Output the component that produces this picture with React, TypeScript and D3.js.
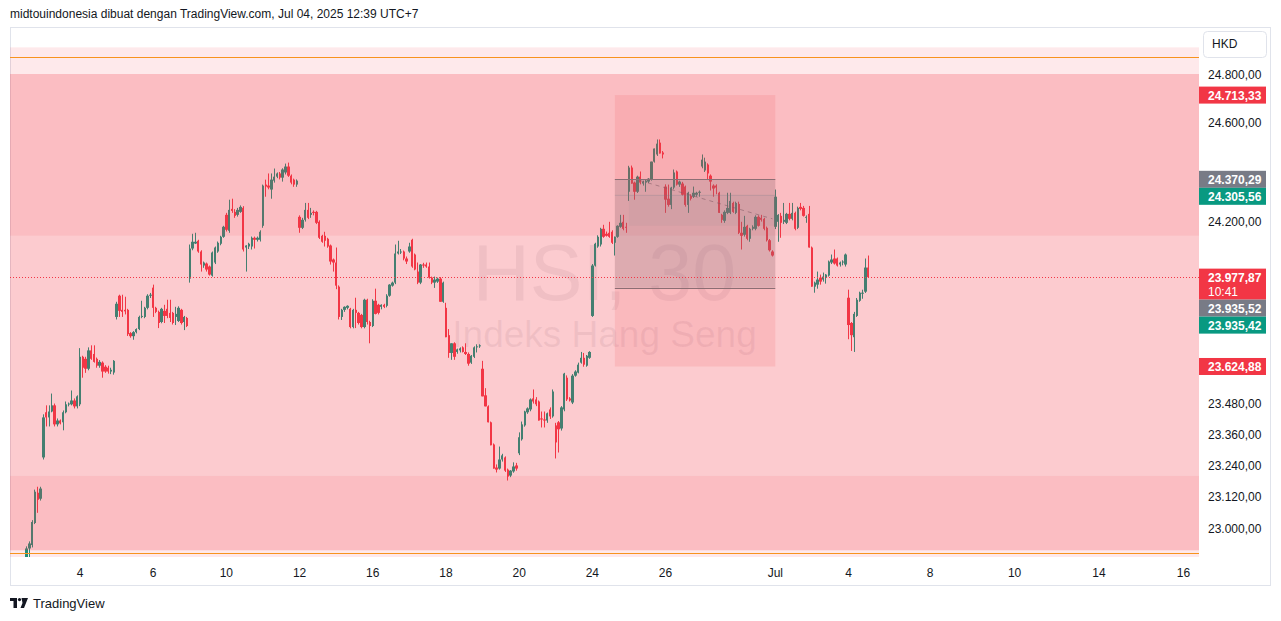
import React from "react";
import * as d3 from "d3";

// ---------- DATA ----------
const sessionDays = ["Jun 2","Jun 3","Jun 4","Jun 5","Jun 6","Jun 9","Jun 10","Jun 11","Jun 12","Jun 13","Jun 16","Jun 17","Jun 18","Jun 19","Jun 20","Jun 23","Jun 24","Jun 25","Jun 26","Jun 27","Jun 30","Jul 2","Jul 3","Jul 4"];
const BARS_PER_DAY = 13;

// [open, high, low, close] – HSI 30 min
const ohlc: number[][] = [
  // Jun 2
  [22860,22890,22800,22830],[22830,22850,22780,22800],[22800,22840,22770,22820],[22820,22860,22800,22840],[22840,22870,22810,22830],[22830,22860,22800,22850],[22850,22880,22830,22870],[22870,22930,22860,22922],[22922,22949,22887,22941],[22935,23030,22926,23023],[23019,23147,23015,23139],[23135,23158,23058,23108],[23112,23158,23105,23151],
  // Jun 3
  [23271,23438,23263,23426],[23446,23473,23391,23426],[23426,23473,23391,23449],[23449,23519,23446,23473],[23473,23480,23391,23399],[23399,23422,23391,23414],[23414,23418,23399,23403],[23407,23453,23376,23446],[23446,23488,23442,23477],[23477,23484,23469,23480],[23477,23531,23473,23492],[23492,23500,23461,23469],[23469,23512,23461,23508],
  // Jun 4
  [23477,23697,23470,23663],[23663,23667,23581,23620],[23655,23663,23600,23616],[23616,23700,23610,23688],[23688,23708,23651,23655],[23674,23708,23640,23643],[23655,23660,23620,23628],[23628,23650,23620,23643],[23640,23645,23581,23605],[23624,23630,23600,23605],[23620,23628,23597,23605],[23605,23620,23595,23612],[23601,23650,23593,23647],
  // Jun 5
  [23820,23880,23810,23872],[23904,23908,23820,23844],[23848,23908,23820,23840],[23848,23900,23830,23842],[23848,23852,23745,23752],[23756,23760,23738,23744],[23744,23764,23730,23760],[23760,23775,23755,23772],[23772,23825,23768,23820],[23820,23884,23815,23824],[23820,23860,23815,23856],[23856,23910,23850,23904],[23904,23915,23895,23908],
  // Jun 6
  [23936,23948,23820,23856],[23856,23860,23835,23840],[23840,23845,23776,23796],[23800,23856,23795,23852],[23844,23868,23796,23824],[23852,23888,23815,23824],[23836,23888,23800,23816],[23836,23840,23790,23796],[23820,23860,23788,23832],[23804,23862,23800,23856],[23848,23852,23790,23796],[23800,23824,23768,23820],[23816,23820,23780,23784],
  // Jun 9
  [23972,24108,23956,24092],[24092,24151,24085,24119],[24112,24155,24110,24119],[24123,24127,24075,24080],[24080,24085,24000,24028],[24024,24040,24015,24036],[24032,24036,24000,24008],[24020,24024,23984,23988],[23984,24080,23980,24076],[24036,24100,24030,24096],[24080,24120,24075,24115],[24111,24143,24105,24139],[24139,24183,24135,24179],
  // Jun 10
  [24227,24235,24160,24167],[24163,24288,24155,24247],[24251,24292,24235,24243],[24239,24250,24215,24223],[24227,24255,24220,24247],[24239,24265,24235,24259],[24255,24262,24080,24088],[24096,24105,24000,24104],[24100,24115,24090,24111],[24100,24140,24088,24135],[24135,24140,24092,24127],[24127,24140,24120,24135],[24127,24165,24120,24159],
  // Jun 11
  [24183,24349,24175,24345],[24349,24369,24300,24341],[24345,24394,24330,24337],[24329,24394,24292,24369],[24365,24414,24357,24381],[24381,24398,24375,24394],[24394,24400,24370,24377],[24377,24415,24361,24410],[24398,24434,24390,24422],[24422,24438,24380,24385],[24385,24390,24350,24357],[24369,24373,24340,24349],[24349,24370,24340,24365],
  // Jun 12
  [24219,24225,24155,24175],[24175,24215,24170,24207],[24207,24275,24200,24247],[24247,24275,24210,24215],[24227,24255,24215,24235],[24239,24245,24225,24235],[24239,24243,24190,24195],[24199,24205,24130,24135],[24143,24147,24115,24119],[24143,24159,24100,24123],[24131,24135,24095,24100],[24104,24108,24028,24040],[24048,24052,24000,24036],
  // Jun 13
  [24036,24096,23930,23944],[23940,23945,23810,23820],[23820,23852,23808,23848],[23848,23862,23840,23860],[23856,23866,23850,23864],[23852,23856,23775,23780],[23780,23852,23775,23848],[23848,23896,23776,23836],[23836,23840,23790,23796],[23828,23832,23775,23780],[23780,23892,23775,23888],[23888,23892,23790,23800],[23800,23805,23716,23784],
  // Jun 16
  [23784,23890,23780,23884],[23884,23932,23830,23832],[23868,23872,23830,23836],[23860,23870,23850,23868],[23868,23872,23855,23860],[23864,23910,23858,23904],[23904,23950,23900,23948],[23944,23960,23940,23956],[23956,24108,23950,24072],[24072,24123,24068,24080],[24076,24090,24070,24080],[24080,24084,24045,24052],[24052,24060,24030,24040],
  // Jun 17
  [24080,24115,24075,24100],[24127,24131,24015,24020],[24068,24072,24005,24008],[24000,24036,23950,23956],[23956,24030,23950,24028],[24028,24035,24015,24024],[24028,24036,24015,24020],[24020,24036,23972,23976],[23976,23980,23950,23956],[23956,23980,23935,23968],[23960,23976,23955,23972],[23972,23978,23880,23880],[23880,23960,23876,23956],
  // Jun 18
  [23856,23876,23740,23740],[23748,23772,23659,23678],[23678,23716,23651,23716],[23716,23720,23651,23663],[23682,23695,23675,23692],[23688,23700,23680,23696],[23700,23704,23680,23682],[23682,23716,23670,23674],[23674,23680,23628,23636],[23640,23670,23635,23667],[23663,23704,23658,23700],[23700,23712,23680,23704],[23704,23712,23698,23708],
  // Jun 19
  [23616,23647,23508,23508],[23512,23540,23469,23469],[23469,23473,23407,23407],[23407,23410,23318,23318],[23321,23325,23228,23228],[23232,23244,23213,23224],[23228,23313,23224,23263],[23263,23285,23255,23279],[23271,23275,23215,23220],[23224,23228,23182,23197],[23201,23222,23195,23220],[23217,23252,23212,23236],[23240,23250,23220,23228],
  // Jun 20
  [23287,23368,23280,23349],[23341,23410,23336,23399],[23395,23452,23390,23449],[23446,23465,23440,23461],[23457,23500,23450,23496],[23500,23535,23480,23488],[23496,23505,23470,23477],[23488,23492,23414,23414],[23422,23449,23387,23418],[23418,23449,23387,23414],[23414,23445,23405,23442],[23457,23465,23420,23430],[23430,23535,23425,23527],
  // Jun 23
  [23395,23405,23267,23329],[23407,23412,23290,23380],[23383,23470,23375,23465],[23457,23600,23450,23597],[23581,23590,23490,23496],[23500,23505,23488,23492],[23484,23595,23478,23589],[23589,23610,23585,23605],[23601,23640,23598,23632],[23640,23682,23636,23659],[23659,23678,23624,23632],[23628,23670,23624,23667],[23659,23685,23655,23682],
  // Jun 24
  [23824,24030,23820,24024],[24024,24115,24020,24111],[24100,24145,24095,24139],[24108,24175,24100,24171],[24171,24187,24135,24139],[24151,24160,24140,24143],[24155,24199,24135,24139],[24159,24165,24110,24115],[24115,24140,24064,24139],[24139,24185,24135,24183],[24179,24227,24175,24195],[24199,24227,24165,24171],[24179,24195,24155,24175],
  // Jun 25
  [24320,24425,24283,24418],[24418,24426,24353,24353],[24357,24361,24288,24320],[24320,24385,24315,24381],[24381,24402,24350,24357],[24353,24365,24345,24361],[24357,24370,24320,24365],[24361,24375,24355,24373],[24369,24442,24365,24442],[24442,24495,24438,24495],[24471,24532,24465,24515],[24519,24532,24475,24475],[24479,24485,24455,24471],
  // Jun 26
  [24341,24350,24235,24288],[24292,24349,24260,24267],[24267,24340,24250,24337],[24337,24410,24330,24398],[24402,24406,24345,24349],[24349,24365,24340,24361],[24353,24360,24305,24308],[24341,24345,24260,24267],[24267,24320,24235,24316],[24304,24310,24285,24292],[24300,24341,24295,24316],[24308,24320,24300,24316],[24316,24325,24300,24320],
  // Jun 27
  [24422,24471,24415,24450],[24406,24458,24400,24442],[24430,24435,24369,24394],[24385,24390,24325,24361],[24345,24350,24300,24333],[24345,24350,24310,24337],[24316,24320,24235,24235],[24227,24231,24195,24207],[24203,24245,24195,24239],[24235,24316,24230,24255],[24235,24316,24230,24283],[24275,24280,24235,24239],[24235,24280,24230,24275],
  // Jun 30
  [24271,24280,24150,24155],[24155,24199,24088,24143],[24147,24223,24140,24179],[24183,24187,24125,24131],[24131,24175,24119,24171],[24171,24185,24165,24179],[24171,24225,24165,24219],[24219,24225,24180,24183],[24215,24227,24200,24207],[24211,24215,24165,24171],[24175,24180,24120,24125],[24125,24130,24080,24085],[24080,24085,24060,24064],
  // Jul 2
  [24179,24329,24170,24300],[24199,24230,24119,24227],[24223,24235,24135,24195],[24199,24275,24190,24207],[24195,24235,24190,24231],[24231,24275,24205,24211],[24211,24275,24205,24235],[24235,24240,24165,24171],[24175,24260,24170,24255],[24259,24275,24245,24251],[24255,24263,24220,24223],[24215,24225,24195,24219],[24231,24263,24096,24096],
  // Jul 3
  [24096,24100,23940,23940],[23940,23960,23916,23956],[23948,24000,23932,23968],[23976,23988,23948,23960],[23968,23996,23960,23980],[23976,23990,23952,23988],[23984,24044,23980,24040],[24036,24068,24030,24048],[24052,24088,24028,24032],[24052,24056,24020,24024],[24028,24040,24020,24036],[24036,24045,24025,24040],[24028,24072,24020,24068],
  // Jul 4
  [23896,23928,23732,23788],[23796,23800,23686,23748],[23740,23840,23682,23832],[23824,23895,23820,23888],[23884,23920,23880,23916],[23912,23928,23892,23916],[23920,24052,23915,24016],[24016,24064,23975,23977.87],
];

const priceTicks = [24800, 24600, 24400, 24200, 24000, 23800, 23600, 23480, 23360, 23240, 23120, 23000];
const timeTicks = [
  { label: "4", bar: 26 }, { label: "6", bar: 52 }, { label: "10", bar: 78 }, { label: "12", bar: 104 },
  { label: "16", bar: 130 }, { label: "18", bar: 156 }, { label: "20", bar: 182 }, { label: "24", bar: 208 },
  { label: "26", bar: 234 }, { label: "Jul", bar: 273 }, { label: "4", bar: 299 },
  { label: "8", bar: 328 }, { label: "10", bar: 358 }, { label: "14", bar: 388 }, { label: "16", bar: 418 },
];
const zones = [
  { top: 24910, bottom: 24800, alpha: 0.11 },
  { top: 24800, bottom: 24143, alpha: 0.33 },
  { top: 24143, bottom: 23200, alpha: 0.26 },
  { top: 23200, bottom: 22915, alpha: 0.33 },
  { top: 22915, bottom: 22850, alpha: 0.11 },
];
const levelLines = [24871, 22904];
const rangeBox = { fromBar: 216, toBar: 273, top: 24713.33, bottom: 23624.88 };
const innerBox = { fromBar: 216, toBar: 273, top: 24370.29, bottom: 23935.52 };
const innerBand = { fromBar: 221, toBar: 273, top: 24305.56, bottom: 24183 };
const forecastLine = [{ bar: 225, price: 24365 }, { bar: 272, price: 24211 }];
const lastPrice = 23977.87;
const priceLabels = [
  { value: 24713.33, color: "#F23645" },
  { value: 24370.29, color: "#787B86" },
  { value: 24305.56, color: "#089981" },
  { value: 23977.87, color: "#F23645", sub: "10:41" },
  { value: 23935.52, color: "#787B86" },
  { value: 23935.42, color: "#089981" },
  { value: 23624.88, color: "#F23645" },
];

// ---------- LAYOUT ----------
const W = 1281, H = 621;
const pane = { left: 10, right: 1199, top: 27, bottom: 557 };
const GREEN = "#089981", RED = "#F23645";
const FONT = "'Liberation Sans', Arial, sans-serif";

const fmt = (v: number) => {
  const s = v.toFixed(2);
  const [int, dec] = s.split(".");
  return int.replace(/\B(?=(\d{3})+(?!\d))/g, ".") + "," + dec;
};

export default function App() {
  const x = d3.scaleLinear().domain([0, 23 * BARS_PER_DAY]).range([6.8, 848.5]);
  const y = d3.scaleLog().domain([23000, 24800]).range([528, 74]);

  // stacked price labels
  const placed: { top: number; h: number; l: typeof priceLabels[0] }[] = [];
  let lastBottom = -Infinity;
  priceLabels.forEach((l) => {
    const h = l.sub ? 31 : 17;
    let top = y(l.value) - 8.5;
    if (top < lastBottom) top = lastBottom;
    placed.push({ top, h, l });
    lastBottom = top + h;
  });
  // axis ticks hidden under a label are clipped so that only their visible part remains
  const covered = (v: number) => placed.some(({ top, h }) => y(v) + 5 > top && y(v) - 5 < top + h);

  const tint = (a: number) => `rgba(242,54,69,${a})`;

  return (
    <svg width={W} height={H} style={{ display: "block", position: "absolute", left: 0, top: 0 }} fontFamily={FONT}>
      <rect x={0} y={0} width={W} height={H} fill="#ffffff" />
      <text x={10} y={18} fontSize={12} fill="#131722">
        midtouindonesia dibuat dengan TradingView.com, Jul 04, 2025 12:39 UTC+7
      </text>
      <rect x={10.5} y={27.5} width={1260} height={558} fill="#fff" stroke="#e0e3eb" />
      <defs>
        <clipPath id="pane">
          <rect x={pane.left} y={pane.top} width={pane.right - pane.left} height={pane.bottom - pane.top} />
        </clipPath>
      </defs>
      <g clipPath="url(#pane)">
        {/* watermark */}
        <text x={(pane.left + pane.right) / 2} y={300} textAnchor="middle" fontSize={79} fill="rgba(120,123,134,0.12)">HSI, 30</text>
        <text x={(pane.left + pane.right) / 2} y={347} textAnchor="middle" fontSize={37} fill="rgba(120,123,134,0.12)">Indeks Hang Seng</text>
        {/* candles */}
        {ohlc.map(([o, h, l, c], i) => {
          const cx = x(i);
          const col = c >= o ? GREEN : RED;
          const yt = y(Math.max(o, c));
          const yb = y(Math.min(o, c));
          const bx0 = Math.round(cx - 1.2);
          const bx1 = Math.round(cx + 1.2);
          return (
            <g key={i}>
              <rect x={Math.floor(cx)} y={y(h)} width={1} height={Math.max(1, y(l) - y(h))} fill={col} />
              <rect x={bx0} y={yt} width={Math.max(2, bx1 - bx0)} height={Math.max(1, yb - yt)} fill={col} />
            </g>
          );
        })}
        {/* zones */}
        {zones.map((z, i) => (
          <rect key={i} x={pane.left} width={pane.right - pane.left} y={y(z.top)} height={y(z.bottom) - y(z.top)} fill={tint(z.alpha)} />
        ))}
        {levelLines.map((v, i) => (
          <line key={i} x1={pane.left} x2={pane.right} y1={Math.round(y(v)) + 0.5} y2={Math.round(y(v)) + 0.5} stroke="#F7931E" strokeWidth={1} />
        ))}
        {/* range box */}
        <rect x={x(rangeBox.fromBar)} width={x(rangeBox.toBar) - x(rangeBox.fromBar)} y={y(rangeBox.top)} height={y(rangeBox.bottom) - y(rangeBox.top)} fill={tint(0.12)} />
        <rect x={x(innerBox.fromBar)} width={x(innerBox.toBar) - x(innerBox.fromBar)} y={y(innerBox.top)} height={y(innerBox.bottom) - y(innerBox.top)} fill="rgba(120,123,134,0.22)" />
        <rect x={x(innerBand.fromBar)} width={x(innerBand.toBar) - x(innerBand.fromBar)} y={y(innerBand.top)} height={y(innerBand.bottom) - y(innerBand.top)} fill="rgba(120,123,134,0.08)" />
        <line x1={x(innerBox.fromBar)} x2={x(innerBox.toBar)} y1={y(innerBand.top)} y2={y(innerBand.top)} stroke="rgba(120,123,134,0.25)" />
        <line x1={x(innerBox.fromBar)} x2={x(innerBox.toBar)} y1={Math.round(y(innerBox.top)) + 0.5} y2={Math.round(y(innerBox.top)) + 0.5} stroke="#8c6e74" />
        <line x1={x(innerBox.fromBar)} x2={x(innerBox.toBar)} y1={Math.round(y(innerBox.bottom)) + 0.5} y2={Math.round(y(innerBox.bottom)) + 0.5} stroke="#8c6e74" />
        <line x1={x(forecastLine[0].bar)} y1={y(forecastLine[0].price)} x2={x(forecastLine[1].bar)} y2={y(forecastLine[1].price)} stroke="rgba(130,90,100,0.55)" strokeDasharray="4 4" />
        {/* last price line */}
        <line x1={pane.left} x2={pane.right} y1={Math.round(y(lastPrice)) + 0.5} y2={Math.round(y(lastPrice)) + 0.5} stroke={RED} strokeDasharray="1 2" />
      </g>
      {/* price axis */}
      <rect x={1203.5} y={31.5} width={63} height={26} rx={4} fill="#fff" stroke="#e0e3eb" />
      <text x={1212} y={48} fontSize={12} fill="#131722">HKD</text>
      {priceTicks.filter((v) => !covered(v)).map((v) => (
        <text key={v} x={1208} y={y(v) + 4.5} fontSize={12} fill="#131722">{fmt(v)}</text>
      ))}
      {placed.map(({ top, h, l }, i) => (
        <g key={i}>
          <rect x={1199} y={top} width={67} height={h} fill={l.color} />
          <text x={1208} y={top + 13} fontSize={12} fontWeight="bold" fill="#fff">{fmt(l.value)}</text>
          {l.sub && <text x={1208} y={top + 27} fontSize={12} fill="#fff">{l.sub}</text>}
        </g>
      ))}
      {/* time axis */}
      {timeTicks.map((t, i) => (
        <text key={i} x={x(t.bar)} y={577} textAnchor="middle" fontSize={12} fill="#131722">{t.label}</text>
      ))}
      {/* footer logo */}
      <g fill="#131722">
        <rect x={10} y={598} width={7} height={3} />
        <rect x={13.5} y={598} width={3.5} height={10} />
        <circle cx={19.5} cy={599.6} r={1.6} />
        <polygon points="21.5,598 28,598 24,608 20.5,608 22.5,603" />
      </g>
      <text x={33} y={608} fontSize={13} fill="#131722">TradingView</text>
    </svg>
  );
}
